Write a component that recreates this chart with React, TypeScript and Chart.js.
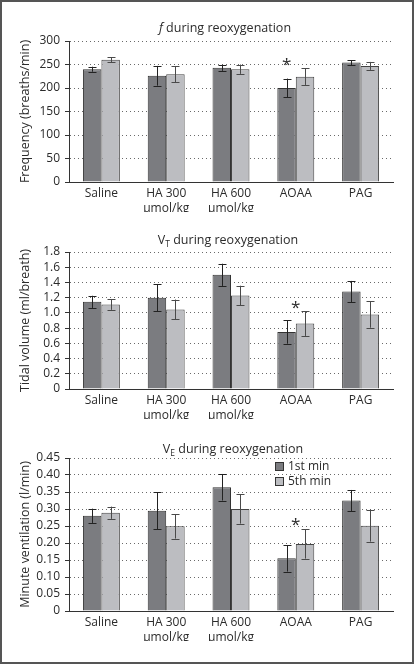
import React, { useEffect, useRef } from "react";
import { Chart, registerables } from "chart.js";

Chart.register(...registerables);

// ---------- data ----------
const categories: (string | string[])[] = ["Saline", ["HA 300", "\u00B5mol/kg"], ["HA 600", "\u00B5mol/kg"], "AOAA", "PAG"];
const seriesNames = ["1st min", "5th min"];

const freq1st = [240, 226, 243, 200, 254];
const freq1stErr = [5.3, 21, 6.5, 20, 5.5];
const freq5th = [260, 229, 240, 224, 247];
const freq5thErr = [5, 17, 10, 17.5, 8.5];
const freqTicks = [0, 50, 100, 150, 200, 250, 300];
const freqTickLabels = ["0", "50", "100", "150", "200", "250", "300"];
const freqStars = [null, null, null, 258, null];

const vt1st = [1.145, 1.2, 1.5, 0.75, 1.28];
const vt1stErr = [0.08, 0.175, 0.146, 0.155, 0.14];
const vt5th = [1.11, 1.045, 1.23, 0.86, 0.98];
const vt5thErr = [0.07, 0.13, 0.127, 0.163, 0.175];
const vtTicks = [0, 0.2, 0.4, 0.6, 0.8, 1.0, 1.2, 1.4, 1.6, 1.8];
const vtTickLabels = ["0", "0.2", "0.4", "0.6", "0.8", "1.0", "1.2", "1.4", "1.6", "1.8"];
const vtStars = [null, null, null, 1.13, null];

const ve1st = [0.28, 0.295, 0.364, 0.155, 0.325];
const ve1stErr = [0.021, 0.054, 0.039, 0.039, 0.031];
const ve5th = [0.289, 0.249, 0.3, 0.197, 0.251];
const ve5thErr = [0.018, 0.036, 0.043, 0.043, 0.047];
const veTicks = [0, 0.05, 0.1, 0.15, 0.2, 0.25, 0.3, 0.35, 0.4, 0.45];
const veTickLabels = ["0", "0.05", "0.10", "0.15", "0.20", "0.25", "0.30", "0.35", "0.40", "0.45"];
const veStars = [null, null, null, 0.265, null];

// ---------- styles ----------
const FONT = '"Open Sans", "Noto Sans", sans-serif';
const TEXT = "#2b2b2b";
const DARK = "#7b7c80";
const LIGHT = "#bcbdc1";
const EDGE = "#333333";

type Seg = { text: string; italic?: boolean; sub?: boolean };

interface PanelCfg {
  top: number;
  height: number;
  padTop: number;
  padBottom: number;
  title: Seg[];
  titleX: number;
  titleBaseline: number;
  yTitle: string;
  d1: number[];
  e1: number[];
  d2: number[];
  e2: number[];
  ticks: number[];
  tickLabels: string[];
  stars: (number | null)[];
  starOnFirst: boolean;
  legend: boolean;
}

const panels: PanelCfg[] = [
  {
    top: 0, height: 220, padTop: 41, padBottom: 8,
    title: [{ text: "f", italic: true }, { text: " during reoxygenation" }],
    titleX: 225, titleBaseline: 32,
    yTitle: "Frequency (breaths/min)",
    d1: freq1st, e1: freq1stErr, d2: freq5th, e2: freq5thErr,
    ticks: freqTicks, tickLabels: freqTickLabels, stars: freqStars, starOnFirst: true, legend: false,
  },
  {
    top: 220, height: 220, padTop: 32, padBottom: 21,
    title: [{ text: "V" }, { text: "T", sub: true }, { text: " during reoxygenation" }],
    titleX: 228, titleBaseline: 24,
    yTitle: "Tidal volume (ml/breath)",
    d1: vt1st, e1: vt1stErr, d2: vt5th, e2: vt5thErr,
    ticks: vtTicks, tickLabels: vtTickLabels, stars: vtStars, starOnFirst: false, legend: false,
  },
  {
    top: 440, height: 224, padTop: 18, padBottom: 23,
    title: [{ text: "V" }, { text: "E", sub: true }, { text: " during reoxygenation" }],
    titleX: 233, titleBaseline: 13,
    yTitle: "Minute ventilation (l/min)",
    d1: ve1st, e1: ve1stErr, d2: ve5th, e2: ve5thErr,
    ticks: veTicks, tickLabels: veTickLabels, stars: veStars, starOnFirst: false, legend: true,
  },
];

function makeDecorPlugin(p: PanelCfg) {
  return {
    id: "decor",
    afterDatasetsDraw(chart: any) {
      const ctx = chart.ctx as CanvasRenderingContext2D;
      const yScale = chart.scales.y;
      const errs = [p.e1, p.e2];
      const vals = [p.d1, p.d2];
      const errColors = ["#222222", "#4a4a4a"];
      for (let di = 0; di < 2; di++) {
        const meta = chart.getDatasetMeta(di);
        meta.data.forEach((bar: any, i: number) => {
          const v = vals[di][i];
          const e = errs[di][i];
          const yT = yScale.getPixelForValue(v + e);
          const yB = yScale.getPixelForValue(v - e);
          const x = Math.round(bar.x) + 0.5;
          ctx.save();
          ctx.strokeStyle = errColors[di];
          ctx.lineWidth = 1;
          ctx.beginPath();
          ctx.moveTo(x, yT);
          ctx.lineTo(x, yB);
          ctx.moveTo(x - 4, Math.round(yT) + 0.5);
          ctx.lineTo(x + 4, Math.round(yT) + 0.5);
          ctx.moveTo(x - 4, Math.round(yB) + 0.5);
          ctx.lineTo(x + 4, Math.round(yB) + 0.5);
          ctx.stroke();
          ctx.restore();
        });
      }
      const m0 = chart.getDatasetMeta(0);
      const m1 = chart.getDatasetMeta(1);
      p.stars.forEach((s, i) => {
        if (s === null) return;
        const b0 = m0.data[i];
        const b1 = m1.data[i];
        const x = p.starOnFirst ? b0.x : (b0.x + b1.x) / 2;
        const y = yScale.getPixelForValue(s);
        ctx.save();
        ctx.fillStyle = TEXT;
        ctx.font = `17px ${FONT}`;
        ctx.textAlign = "center";
        ctx.textBaseline = "alphabetic";
        ctx.fillText("*", x, y + 0.56 * 17);
        ctx.restore();
      });
    },
    afterDraw(chart: any) {
      const ctx = chart.ctx as CanvasRenderingContext2D;
      ctx.save();
      ctx.fillStyle = TEXT;
      ctx.textBaseline = "alphabetic";
      ctx.textAlign = "left";
      const fontFor = (s: Seg) =>
        `${s.italic ? "italic " : ""}${s.sub ? 8.5 : 12.5}px ${FONT}`;
      let total = 0;
      p.title.forEach((s) => {
        ctx.font = fontFor(s);
        total += ctx.measureText(s.text).width;
      });
      let x = p.titleX - total / 2;
      p.title.forEach((s) => {
        ctx.font = fontFor(s);
        ctx.fillText(s.text, x, p.titleBaseline + (s.sub ? 2.5 : 0));
        x += ctx.measureText(s.text).width;
      });
      ctx.restore();

      if (p.legend) {
        const area = chart.chartArea;
        const colors = [DARK, LIGHT];
        ctx.save();
        seriesNames.forEach((name, k) => {
          const bx = area.left + 206.5;
          const by = area.top + 4.5 + k * 15;
          ctx.fillStyle = colors[k];
          ctx.fillRect(bx, by, 8, 8);
          ctx.strokeStyle = EDGE;
          ctx.lineWidth = 1;
          ctx.strokeRect(bx, by, 8, 8);
          ctx.fillStyle = TEXT;
          ctx.font = `12px ${FONT}`;
          ctx.textBaseline = "middle";
          ctx.textAlign = "left";
          ctx.fillText(name, bx + 12.5, by + 4.5);
        });
        ctx.restore();
      }
    },
  };
}

function Panel({ p }: { p: PanelCfg }) {
  const ref = useRef<HTMLCanvasElement | null>(null);
  useEffect(() => {
    if (!ref.current) return;
    const chart = new Chart(ref.current, {
      type: "bar",
      data: {
        labels: categories as any,
        datasets: [
          {
            label: seriesNames[0],
            data: p.d1,
            backgroundColor: DARK,
            borderColor: EDGE,
            borderWidth: 1,
            barPercentage: 1,
            categoryPercentage: 0.57,
          },
          {
            label: seriesNames[1],
            data: p.d2,
            backgroundColor: LIGHT,
            borderColor: "#444444",
            borderWidth: 1,
            barPercentage: 1,
            categoryPercentage: 0.57,
          },
        ],
      },
      options: {
        responsive: false,
        animation: false,
        events: [],
        layout: { padding: { left: 0, right: 21, top: p.padTop, bottom: p.padBottom } },
        plugins: {
          legend: { display: false },
          tooltip: { enabled: false },
          title: { display: false },
        },
        scales: {
          x: {
            grid: { display: false, drawTicks: false },
            border: { display: true, color: EDGE, width: 1 },
            ticks: {
              color: TEXT,
              font: { family: FONT, size: 12, lineHeight: 1.25 },
              padding: 4,
              maxRotation: 0,
              autoSkip: false,
            },
            afterFit: (s: any) => {
              s.height = 30;
            },
          },
          y: {
            min: p.ticks[0],
            max: p.ticks[p.ticks.length - 1],
            afterBuildTicks: (s: any) => {
              s.ticks = p.ticks.map((v) => ({ value: v }));
            },
            ticks: {
              color: TEXT,
              font: { family: FONT, size: 12 },
              padding: 5,
              autoSkip: false,
              callback: (_v: any, i: number) => p.tickLabels[i],
            },
            grid: {
              color: "#6a6a6a",
              lineWidth: 1,
              drawTicks: true,
              tickLength: 4,
              tickColor: EDGE,
              tickBorderDash: [],
            },
            border: { display: true, color: EDGE, width: 1, dash: [1, 3] },
            title: {
              display: true,
              text: p.yTitle,
              color: TEXT,
              font: { family: FONT, size: 12.5 },
              padding: { top: 17.5, bottom: 0 },
            },
            afterFit: (s: any) => {
              s.width = 69;
            },
          },
        },
      } as any,
      plugins: [makeDecorPlugin(p)],
    });
    return () => chart.destroy();
  }, [p]);
  return (
    <canvas
      ref={ref}
      width={414}
      height={p.height}
      style={{ position: "absolute", left: 0, top: p.top, width: 414, height: p.height }}
    />
  );
}

export default function App() {
  return (
    <div
      style={{
        position: "absolute",
        left: 0,
        top: 0,
        width: 414,
        height: 664,
        background: "#ffffff",
        overflow: "hidden",
      }}
    >
      {panels.map((p, i) => (
        <Panel key={i} p={p} />
      ))}
      <div
        style={{
          position: "absolute",
          left: 0,
          top: 0,
          width: 414,
          height: 664,
          boxSizing: "border-box",
          border: "2px solid #555555",
          pointerEvents: "none",
        }}
      />
    </div>
  );
}
